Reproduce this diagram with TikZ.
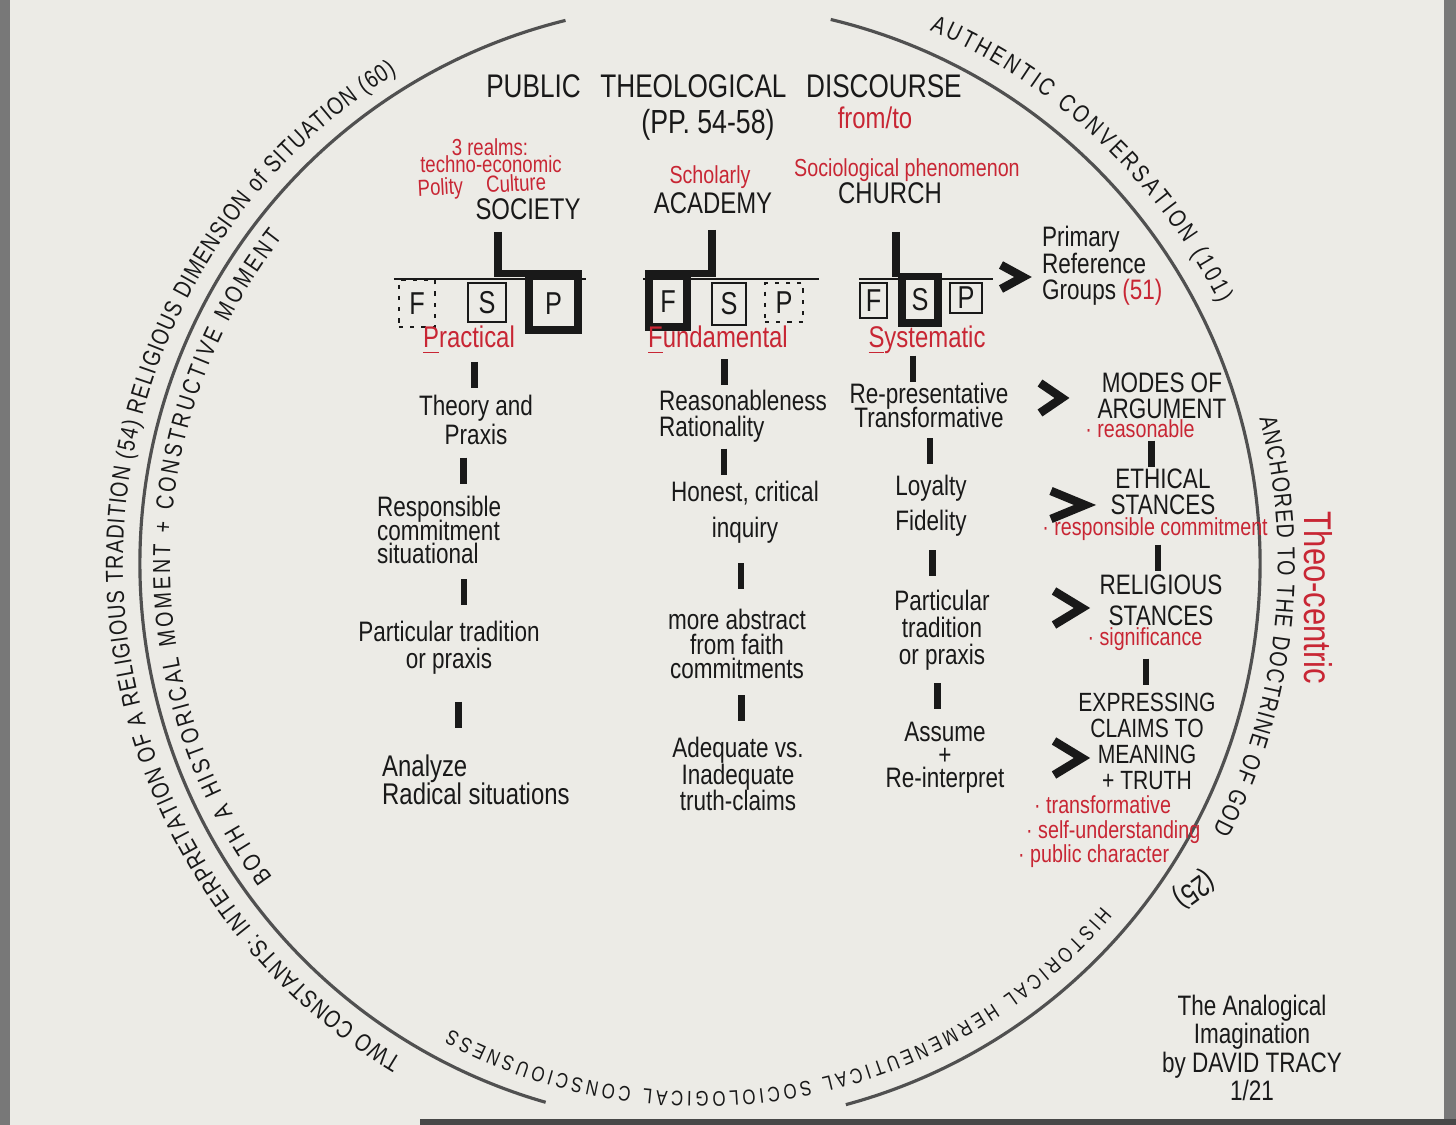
\documentclass[tikz,border=0pt]{standalone}
\usepackage{fontspec}
\setmainfont{Liberation Sans}[FakeStretch=0.8]
\usetikzlibrary{calc, decorations.text}
\definecolor{paper}{RGB}{236, 235, 230}
\definecolor{ink}{RGB}{25, 25, 25}
\definecolor{markred}{RGB}{200, 38, 52}
\definecolor{ringgray}{RGB}{80, 80, 80}
\definecolor{edgegray}{RGB}{120, 120, 120}
\newcommand{\arcfont}{\fontsize{7}{7}\selectfont\color{ink}}
\newcommand{\arcsmall}{\fontsize{6}{6}\selectfont\color{ink}}
\newcommand{\tightlines}{\lineskiplimit -20pt\relax}
\newcommand{\linkbar}[3][0]{\draw[bar] ($(#2.south)!0.5!(#3.north)+(#1,13)$) -- ++(0,-26);}

\begin{document}
\begin{tikzpicture}[
  x=0.01cm, y=0.01cm,
  txt/.style={font=\fontsize{8}{8.3}\selectfont, text=ink, align=center, inner sep=1pt},
  lead/.style={font=\fontsize{8}{#1}\selectfont\tightlines},
  capsm/.style={txt, font=\fontsize{8}{7.4}\selectfont\tightlines},
  redsm/.style={font=\fontsize{7}{7}\selectfont, text=markred, inner sep=1pt},
  realm/.style={font=\fontsize{6.6}{7}\selectfont, text=markred, inner sep=0pt},
  sublabel/.style={font=\fontsize{8.5}{9}\selectfont, text=markred, inner sep=1pt},
  head/.style={font=\fontsize{8.5}{9}\selectfont, text=ink, inner sep=1pt},
  fsp/.style={draw=ink, font=\fontsize{9}{9}\selectfont, text=ink, inner sep=0pt},
  thinbox/.style={fsp, line width=0.6pt},
  heavybox/.style={fsp, line width=2pt},
  dotbox/.style={fsp, line width=0.7pt, dash pattern=on 1.2pt off 2pt},
  shelf/.style={draw=ink, line width=0.6pt},
  stem/.style={draw=ink, line width=2pt},
  bar/.style={draw=ink, line width=1.9pt},
  ring/.style={draw=ringgray, line width=0.9pt},
  arctext/.style={decorate, decoration={text along path, text align=fit to path, raise=-2pt, text={#1}}},
  chevline/.style={draw=ink, line width=2.4pt, line join=miter},
  chev/.pic={\draw[chevline] (-1,1) -- (1,0) -- (-1,-1);}
]

  \useasboundingbox (0,0) rectangle (1456,-1125);
  \fill[paper] (0,0) rectangle (1456,-1125);
  \fill[edgegray] (0,0) rectangle (10,-1125);
  \fill[edgegray] (1444,0) rectangle (1456,-1125);
  \fill[edgegray!60!black] (420,-1119) rectangle (1456,-1125);

  \coordinate (ctr) at (700,-564);
  \draw[ring] ([shift={(76.5:560)}]ctr) arc[start angle=76.5, end angle=-74.9, radius=560];
  \draw[ring] ([shift={(103.9:560)}]ctr) arc[start angle=103.9, end angle=254, radius=560];

  \path[arctext={|\arcfont|AUTHENTIC CONVERSATION (101)}] ([shift={(66.7:588)}]ctr) arc[start angle=66.7, end angle=26.6, radius=588];
  \path[arctext={|\arcfont|ANCHORED TO THE DOCTRINE OF GOD}] ([shift={(14.6:585)}]ctr) arc[start angle=14.6, end angle=-27.5, radius=585];
  \path[arctext={|\arcsmall|HISTORICAL HERMENEUTICAL SOCIOLOGICAL CONSCIOUSNESS}] ([shift={(-40.5:535)}]ctr) arc[start angle=-40.5, end angle=-118.1, radius=535];
  \path[arctext={|\arcfont|TWO CONSTANTS: INTERPRETATION OF A RELIGIOUS TRADITION (54) RELIGIOUS DIMENSION of SITUATION (60)}] ([shift={(238.9:584)}]ctr) arc[start angle=238.9, end angle=121.8, radius=584];
  \path[arctext={|\arcfont|BOTH A HISTORICAL MOMENT + CONSTRUCTIVE MOMENT}] ([shift={(216.2:537)}]ctr) arc[start angle=216.2, end angle=142, radius=537];

  \node[font=\fontsize{8.5}{9}\selectfont, text=ink, rotate=-144, inner sep=0pt] (cite25) at (1194,-889) {(25)};
  \node[font=\fontsize{11}{11}\selectfont, text=markred, rotate=-90] (theo) at (1318,-598) {Theo-centric};

  \node[font=\fontsize{9.3}{10}\selectfont, text=ink] (title) at (724,-86) {PUBLIC\hspace{0.6em}THEOLOGICAL\hspace{0.6em}DISCOURSE};
  \node[font=\fontsize{9.5}{10}\selectfont, text=ink] (pages) at (708,-125) {(PP. 54-58)};
  \node[sublabel] (fromto) at (875,-118) {from/to};

  \node[realm] (realms) at (490,-147) {3 realms:};
  \node[realm] (techno) at (491,-164) {techno-economic};
  \node[realm, rotate=3] (polity) at (482,-187) {Polity\quad Culture};
  \node[head] (society) at (528,-209) {SOCIETY};
  \node[redsm] (scholarly) at (710,-177) {Scholarly};
  \node[head] (academy) at (713,-203) {ACADEMY};
  \node[redsm] (socio) at (907,-170) {Sociological phenomenon};
  \node[head] (church) at (890,-193) {CHURCH};

  \node[dotbox, minimum width=0.36cm, minimum height=0.47cm] (socF) at (417,-303.5) {F};
  \node[thinbox, minimum width=0.38cm, minimum height=0.39cm] (socS) at (487,-302.5) {S};
  \node[heavybox, minimum width=0.49cm, minimum height=0.53cm] (socP) at (553.5,-303.5) {P};
  \node[heavybox, minimum width=0.38cm, minimum height=0.50cm] (acaF) at (668,-302) {F};
  \node[thinbox, minimum width=0.34cm, minimum height=0.42cm] (acaS) at (729,-304) {S};
  \node[dotbox, minimum width=0.38cm, minimum height=0.39cm] (acaP) at (784,-302.5) {P};
  \node[thinbox, minimum width=0.27cm, minimum height=0.35cm] (chuF) at (873.5,-300.5) {F};
  \node[heavybox, minimum width=0.36cm, minimum height=0.46cm] (chuS) at (920,-300) {S};
  \node[thinbox, minimum width=0.32cm, minimum height=0.30cm] (chuP) at (966,-298) {P};

  \draw[shelf] ($(socF.north west)+(-4,0)$) -- ($(socF.north west -| socP.east)+(4,0)$);
  \draw[shelf] ($(acaS.north -| acaF.west)+(-2,3)$) -- ($(acaS.north -| acaP.east)+(15,3)$);
  \draw[shelf] ($(chuF.north west)+(0,3)$) -- ($(chuF.north west -| chuP.east)+(10,3)$);

  \coordinate (socTop) at (498,-232);
  \coordinate (acaTop) at (712,-230);
  \coordinate (chuTop) at (896,-232);
  \draw[stem] (socTop) |- (socP.north east);
  \draw[stem] (acaTop) |- (acaF.north west);
  \draw[stem] (chuTop) |- (chuS.north west);

  \node[sublabel] (pract) at (469,-340) {\underline{P}ractical};
  \node[sublabel] (fund) at (718,-340) {\underline{F}undamental};
  \node[sublabel] (syst) at (927,-340) {\underline{S}ystematic};

  \node[txt, lead=8.2] (soc1) at (476,-420) {Theory and\\Praxis};
  \node[txt, lead=6.6, align=left, anchor=west] (soc2) at (373,-530) {Responsible\\commitment\\situational};
  \node[txt, lead=7.7] (soc3) at (449,-648) {Particular tradition\\or praxis};
  \node[txt, font=\fontsize{8.5}{7.8}\selectfont\tightlines, align=left, anchor=west] (soc4) at (378,-780) {Analyze\\Radical situations};

  \node[txt, lead=7.4, align=left, anchor=west] (aca1) at (655,-416) {Reasonableness\\Rationality};
  \node[txt, lead=10.2] (aca2) at (745,-512) {Honest, critical\\inquiry};
  \node[txt, lead=7] (aca3) at (737,-644) {more abstract\\from faith\\commitments};
  \node[txt, lead=7.5] (aca4) at (738,-774) {Adequate vs.\\Inadequate\\truth-claims};

  \node[txt, lead=6.8] (chu1) at (929,-405) {Re-presentative\\Transformative};
  \node[txt, lead=10] (chu2) at (931,-506) {Loyalty\\Fidelity};
  \node[txt, lead=7.7] (chu3) at (942,-630) {Particular\\tradition\\or praxis};
  \node[txt, lead=6.5] (chu4) at (945,-758) {Assume\\+\\Re-interpret};

  \linkbar[2]{pract}{soc1}
  \linkbar[6]{soc1}{soc2}
  \linkbar[20]{soc2}{soc3}
  \linkbar[-4]{soc3}{soc4}
  \linkbar[-6]{fund}{aca1}
  \linkbar[-20]{aca1}{aca2}
  \linkbar{aca2}{aca3}
  \linkbar[4]{aca3}{aca4}
  \linkbar[-15]{syst}{chu1}
  \linkbar{chu1}{chu2}
  \linkbar[-4]{chu2}{chu3}
  \linkbar[-6]{chu3}{chu4}

  \node[txt, lead=7.5, align=left, anchor=west] (primary) at (1038,-266) {Primary\\Reference\\Groups \textcolor{markred}{(51)}};
  \node[capsm] (modes) at (1162,-396) {MODES OF\\ARGUMENT};
  \node[redsm] (modesnote) at (1140,-429) {· reasonable};
  \node[capsm] (ethical) at (1163,-492) {ETHICAL\\STANCES};
  \node[redsm] (ethnote) at (1155,-529) {· responsible commitment};
  \node[capsm, font=\fontsize{8}{8.8}\selectfont\tightlines] (religious) at (1161,-600) {RELIGIOUS\\STANCES};
  \node[redsm] (relnote) at (1145,-639) {· significance};
  \node[capsm, font=\fontsize{7.5}{7.4}\selectfont\tightlines] (express) at (1147,-741) {EXPRESSING\\CLAIMS TO\\MEANING\\+ TRUTH};
  \node[redsm, anchor=west] (exnote1) at (1030,-805) {· transformative};
  \node[redsm, anchor=west] (exnote2) at (1022,-832) {· self-understanding};
  \node[redsm, anchor=west] (exnote3) at (1014,-856) {· public character};

  \linkbar{modesnote}{ethical}
  \linkbar{ethnote}{religious}
  \linkbar{relnote}{express}

  \pic[xscale=11, yscale=12] at (1012,-277) {chev};
  \pic[xscale=11, yscale=15] at (1051,-398) {chev};
  \pic[xscale=17, yscale=14] at (1068,-505) {chev};
  \pic[xscale=14, yscale=17] at (1068,-608) {chev};
  \pic[xscale=14, yscale=17] at (1068,-758) {chev};

  \node[txt, lead=8] (book) at (1252,-1048) {The Analogical\\Imagination\\by DAVID TRACY\\1/21};

\end{tikzpicture}
\end{document}
